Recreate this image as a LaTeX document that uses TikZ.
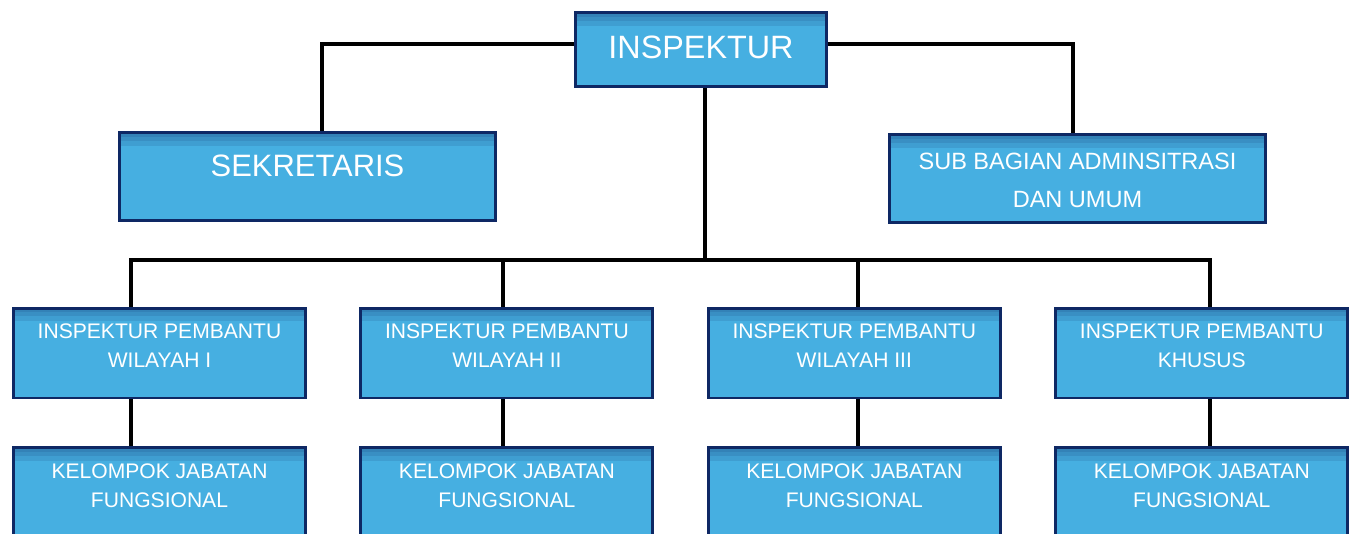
\documentclass[tikz,border=0pt]{standalone}
\usepackage{fontspec}
\setmainfont{Liberation Sans}
\usepackage{xcolor}
\usetikzlibrary{positioning}

\definecolor{unitblue}{RGB}{70,175,225}
\definecolor{unitedge}{RGB}{14,40,100}

\begin{document}
\begin{tikzpicture}[
    x=0.02cm, y=-0.02cm,
    node distance=0.94cm and 1.05cm,
    unit/.style={draw=unitedge, line width=1.7pt, fill=unitblue, inner sep=0pt,
        minimum width=5.84cm, minimum height=1.8cm,
        path picture={
            \fill[unitedge, opacity=0.12] (path picture bounding box.north west) rectangle ([yshift=-0.26cm]path picture bounding box.north east);
            \fill[unitedge, opacity=0.12] (path picture bounding box.north west) rectangle ([yshift=-0.16cm]path picture bounding box.north east);
            \fill[unitedge, opacity=0.12] (path picture bounding box.north west) rectangle ([yshift=-0.08cm]path picture bounding box.north east);}},
    caption/.style={anchor=north, inner sep=0pt, text=white, align=center, font=\fontsize{12}{17}\selectfont},
    link/.style={draw=black, line width=2.3pt, line join=miter}
]
    \useasboundingbox (0,0) rectangle (1359,534);

    % head and staff
    \node[unit, minimum width=5.02cm, minimum height=1.48cm,
          label={[caption, name=insp-t, font=\fontsize{18.4}{22}\selectfont, yshift=-0.49cm]north:INSPEKTUR}]
          (insp) at (701,49.5) {};
    \node[unit, minimum width=7.52cm, minimum height=1.76cm,
          label={[caption, name=sek-t, font=\fontsize{17.6}{21}\selectfont, yshift=-0.48cm]north:SEKRETARIS}]
          (sek) at (307.5,176.5) {};
    \node[unit, minimum width=7.52cm, minimum height=1.76cm,
          label={[caption, name=sub-t, font=\fontsize{13.4}{21.6}\selectfont, yshift=-0.39cm]north:SUB BAGIAN ADMINSITRASI\\DAN UMUM}]
          (sub) at (1077.5,178.5) {};

    % inspektur pembantu
    \node[unit, label={[caption, name=ip1-t, yshift=-0.33cm]north:INSPEKTUR PEMBANTU\\WILAYAH I}]
          (ip1) at (159.5,353) {};
    \node[unit, label={[caption, name=ip2-t, yshift=-0.33cm]north:INSPEKTUR PEMBANTU\\WILAYAH II}]
          (ip2) [right=of ip1] {};
    \node[unit, label={[caption, name=ip3-t, yshift=-0.33cm]north:INSPEKTUR PEMBANTU\\WILAYAH III}]
          (ip3) [right=of ip2] {};
    \node[unit, label={[caption, name=ip4-t, yshift=-0.33cm]north:INSPEKTUR PEMBANTU\\KHUSUS}]
          (ip4) [right=of ip3] {};

    % kelompok jabatan fungsional
    \node[unit, label={[caption, name=kj1-t, yshift=-0.33cm]north:KELOMPOK JABATAN\\FUNGSIONAL}]
          (kj1) [below=of ip1] {};
    \node[unit, label={[caption, name=kj2-t, yshift=-0.33cm]north:KELOMPOK JABATAN\\FUNGSIONAL}]
          (kj2) [below=of ip2] {};
    \node[unit, label={[caption, name=kj3-t, yshift=-0.33cm]north:KELOMPOK JABATAN\\FUNGSIONAL}]
          (kj3) [below=of ip3] {};
    \node[unit, label={[caption, name=kj4-t, yshift=-0.33cm]north:KELOMPOK JABATAN\\FUNGSIONAL}]
          (kj4) [below=of ip4] {};

    % connector points
    \coordinate (sekturn) at (322,44);
    \coordinate (subturn) at (1073,44);
    \coordinate (trunk)   at (705,260);
    \coordinate (bus1)    at (131,260);
    \coordinate (bus2)    at (503,260);
    \coordinate (bus3)    at (858,260);
    \coordinate (bus4)    at (1210,260);

    \draw[link] (insp.west |- sekturn) -- (sekturn) -- (sekturn |- sek.north);
    \draw[link] (insp.east |- subturn) -- (subturn) -- (subturn |- sub.north);
    \draw[link] (insp.south -| trunk) -- (trunk);
    \draw[link] (bus1 |- ip1.north) -- (bus1) -- (bus4) -- (bus4 |- ip4.north);
    \draw[link] (bus2) -- (bus2 |- ip2.north);
    \draw[link] (bus3) -- (bus3 |- ip3.north);

    \draw[link] (ip1.south -| bus1) -- (kj1.north -| bus1);
    \draw[link] (ip2.south -| bus2) -- (kj2.north -| bus2);
    \draw[link] (ip3.south -| bus3) -- (kj3.north -| bus3);
    \draw[link] (ip4.south -| bus4) -- (kj4.north -| bus4);
\end{tikzpicture}
\end{document}
